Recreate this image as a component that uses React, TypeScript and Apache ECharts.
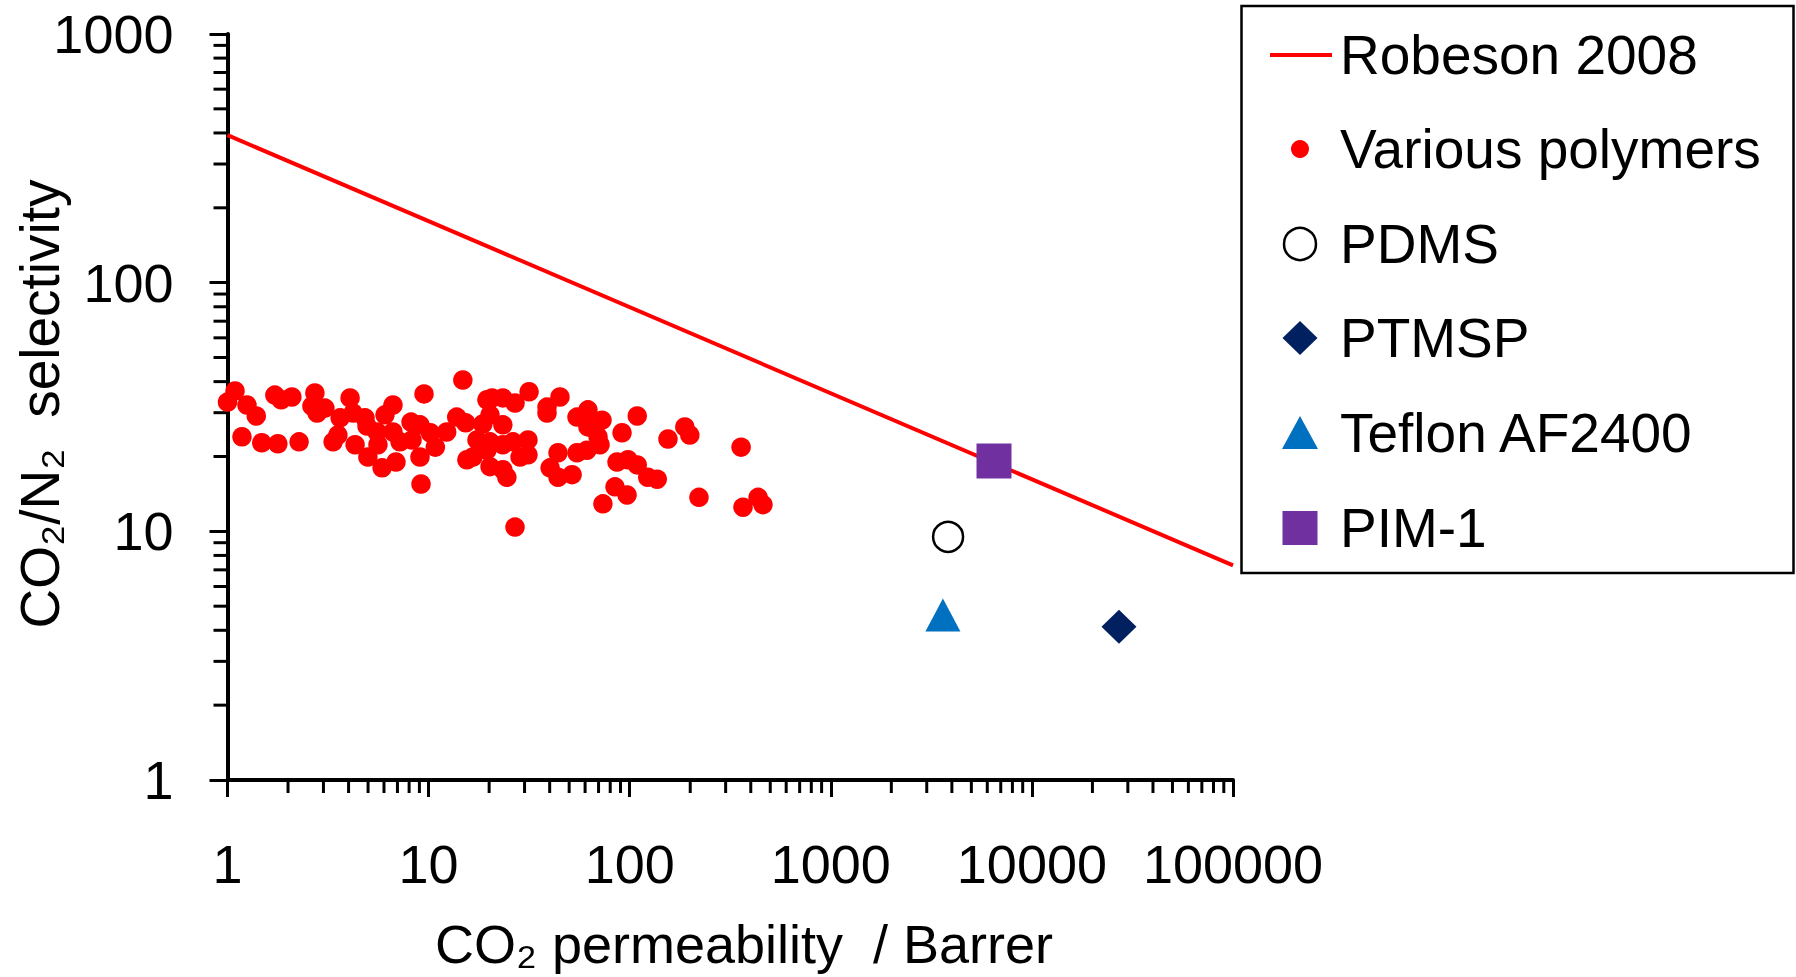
import React, { useEffect, useRef } from 'react';
import * as echarts from 'echarts';

const FONT = '"Liberation Sans", Arial, Helvetica, sans-serif';

// Tick labels
const xTickLabels = ['1', '10', '100', '1000', '10000', '100000'];
const yTickLabels = ['1', '10', '100', '1000'];
const xDecades = [1, 10, 100, 1000, 10000];
const yDecades = [1, 10, 100];
const minorMultipliers = [2, 3, 4, 5, 6, 7, 8, 9];

// Axis titles
const xTitle = 'CO₂ permeability  / Barrer';
const yTitle = 'CO₂/N₂  selectivity';

// Robeson 2008 upper bound (end points)
const robesonX = [1, 100000];
const robesonY = [392, 7.3];

// Various polymers
const polymerX = [1.0, 1.09, 1.25, 1.39, 1.18, 1.48, 1.78, 1.72, 1.85, 2.09, 2.27, 2.72, 2.63, 2.79, 3.05, 3.35, 3.54, 3.63, 4.07, 4.31, 4.83, 4.99, 5.54, 5.6, 5.87, 6.07, 6.65, 6.65, 6.88, 7.21, 8.18, 8.27, 9.06, 9.49, 9.06, 9.17, 10.2, 10.8, 12.3, 13.8, 14.8, 15.3, 15.5, 17.4, 19.5, 18.6, 19.5, 20.7, 23.4, 26.9, 31.6, 38.8, 45.0, 38.8, 20.2, 23.4, 20.2, 23.4, 26.3, 31.2, 28.5, 31.2, 20.2, 23.4, 24.5, 16.6, 44.0, 54.7, 62.0, 72.8, 69.6, 54.7, 61.3, 71.2, 40.2, 44.0, 51.7, 91.6, 86.5, 98.1, 84.5, 26.9, 62.0, 109, 109, 123, 137, 97.0, 73.6, 155, 188, 199, 221, 358, 366, 435, 460, 4.94, 4.21];
const polymerY = [33.1, 36.7, 32.2, 29.1, 24.0, 22.7, 22.5, 35.3, 33.8, 34.7, 22.9, 36.0, 31.9, 29.9, 31.3, 22.9, 24.4, 28.6, 34.4, 22.3, 28.6, 19.9, 25.1, 22.3, 18.0, 29.4, 32.2, 25.1, 19.0, 22.9, 27.5, 23.3, 26.8, 35.7, 19.9, 15.5, 24.9, 21.8, 25.1, 28.8, 40.6, 27.3, 19.4, 23.3, 33.8, 27.0, 21.2, 34.4, 34.4, 32.8, 36.4, 31.6, 34.7, 29.9, 29.4, 26.8, 22.9, 22.3, 22.9, 23.3, 19.9, 20.3, 18.2, 17.7, 16.5, 19.9, 20.7, 28.8, 30.8, 28.0, 24.0, 20.7, 21.2, 22.3, 18.0, 16.5, 16.9, 24.9, 19.0, 19.4, 15.1, 10.4, 26.3, 29.1, 18.5, 16.5, 16.2, 14.0, 12.9, 23.5, 26.3, 24.4, 13.7, 21.8, 12.5, 13.7, 12.8, 26.5, 29.9];

// Individual materials [permeability, selectivity]
const pdmsPoint = [3830, 9.5];
const ptmspPoint = [27100, 4.13];
const teflonPoint = [3610, 4.61];
const pim1Point = [6480, 19.2];

const legendNames = ['Robeson 2008', 'Various polymers', 'PDMS', 'PTMSP', 'Teflon AF2400', 'PIM-1'];

export default function App() {
  const ref = useRef<HTMLDivElement>(null);

  useEffect(() => {
    if (!ref.current) return;
    const chart = echarts.init(ref.current, undefined, { renderer: 'svg' });

    const xMinor: number[] = [];
    xDecades.forEach((d) => minorMultipliers.forEach((m) => xMinor.push(d * m)));
    const yMinor: number[] = [];
    yDecades.forEach((d) => minorMultipliers.forEach((m) => yMinor.push(d * m)));

    const labelFor = (labels: string[]) => (v: number) => {
      const found = labels.find((l) => Number(l) === Math.round(v));
      return found ?? '';
    };

    const legendRowY = [55, 149, 244, 338, 433, 528];
    const iconX = 1300;
    const textX = 1340;

    const option: any = {
      animation: false,
      backgroundColor: '#fff',
      grid: { left: 227.5, right: 563, top: 34, bottom: 197, containLabel: false },
      xAxis: {
        type: 'log',
        logBase: 10,
        min: 1,
        max: 100000,
        splitLine: { show: false },
        axisLine: { show: true, onZero: false, lineStyle: { color: '#000', width: 4 } },
        axisTick: { show: true, inside: false, length: 17, lineStyle: { color: '#000', width: 3 } },
        axisLabel: { margin: 57, fontSize: 54, fontFamily: FONT, color: '#000', formatter: labelFor(xTickLabels) },
      },
      yAxis: {
        type: 'log',
        logBase: 10,
        min: 1,
        max: 1000,
        splitLine: { show: false },
        axisLine: { show: true, onZero: false, lineStyle: { color: '#000', width: 4 } },
        axisTick: { show: true, inside: false, length: 18, lineStyle: { color: '#000', width: 3 } },
        axisLabel: { margin: 54, fontSize: 54, fontFamily: FONT, color: '#000', formatter: labelFor(yTickLabels) },
      },
      series: [
        {
          type: 'custom',
          name: 'xMinorTicks',
          silent: true,
          clip: false,
          z: 1,
          data: xMinor.map((v) => [v, 1]),
          encode: { x: 0, y: 1 },
          renderItem: (params: any, api: any) => {
            const p = api.coord([api.value(0), api.value(1)]);
            return {
              type: 'line',
              shape: { x1: p[0], y1: p[1], x2: p[0], y2: p[1] + 13 },
              style: { stroke: '#000', lineWidth: 3 },
            };
          },
        },
        {
          type: 'custom',
          name: 'yMinorTicks',
          silent: true,
          clip: false,
          z: 1,
          data: yMinor.map((v) => [1, v]),
          encode: { x: 0, y: 1 },
          renderItem: (params: any, api: any) => {
            const p = api.coord([api.value(0), api.value(1)]);
            return {
              type: 'line',
              shape: { x1: p[0], y1: p[1], x2: p[0] - 14, y2: p[1] },
              style: { stroke: '#000', lineWidth: 3 },
            };
          },
        },
        {
          type: 'line',
          name: legendNames[0],
          data: robesonX.map((x, i) => [x, robesonY[i]]),
          symbol: 'none',
          lineStyle: { color: '#FF0000', width: 4 },
          z: 2,
        },
        {
          type: 'scatter',
          name: legendNames[1],
          data: polymerX.map((x, i) => [x, polymerY[i]]),
          symbol: 'circle',
          symbolSize: 19.5,
          itemStyle: { color: '#FF0000', opacity: 1 },
          z: 3,
        },
        {
          type: 'scatter',
          name: legendNames[2],
          data: [pdmsPoint],
          symbol: 'circle',
          symbolSize: 30,
          itemStyle: { color: '#FFFFFF', borderColor: '#000', borderWidth: 2.5, opacity: 1 },
          z: 4,
        },
        {
          type: 'scatter',
          name: legendNames[3],
          data: [ptmspPoint],
          symbol: 'diamond',
          symbolSize: [35, 34],
          itemStyle: { color: '#002060', opacity: 1 },
          z: 4,
        },
        {
          type: 'scatter',
          name: legendNames[4],
          data: [teflonPoint],
          symbol: 'triangle',
          symbolSize: [35, 33],
          itemStyle: { color: '#0070C0', opacity: 1 },
          z: 4,
        },
        {
          type: 'scatter',
          name: legendNames[5],
          data: [pim1Point],
          symbol: 'rect',
          symbolSize: 35,
          itemStyle: { color: '#7030A0', opacity: 1 },
          z: 5,
        },
      ],
      graphic: [
        {
          type: 'text',
          x: 744,
          y: 944,
          z: 100,
          style: {
            text: xTitle,
            fontSize: 54,
            fontFamily: FONT,
            fill: '#000',
            align: 'center',
            verticalAlign: 'middle',
          },
        },
        {
          type: 'text',
          x: 40,
          y: 404,
          rotation: Math.PI / 2,
          z: 100,
          style: {
            text: yTitle,
            fontSize: 55,
            fontFamily: FONT,
            fill: '#000',
            align: 'center',
            verticalAlign: 'middle',
          },
        },
        // Legend box
        {
          type: 'rect',
          z: 100,
          shape: { x: 1241.5, y: 6, width: 552, height: 567 },
          style: { fill: '#fff', stroke: '#000', lineWidth: 2.5 },
        },
        {
          type: 'line',
          z: 101,
          shape: { x1: 1270, y1: legendRowY[0], x2: 1332, y2: legendRowY[0] },
          style: { stroke: '#FF0000', lineWidth: 4 },
        },
        {
          type: 'circle',
          z: 101,
          shape: { cx: iconX, cy: legendRowY[1], r: 9 },
          style: { fill: '#FF0000' },
        },
        {
          type: 'circle',
          z: 101,
          shape: { cx: iconX, cy: legendRowY[2], r: 16 },
          style: { fill: '#fff', stroke: '#000', lineWidth: 2.5 },
        },
        {
          type: 'polygon',
          z: 101,
          shape: {
            points: [
              [iconX, legendRowY[3] - 17],
              [iconX + 17.5, legendRowY[3]],
              [iconX, legendRowY[3] + 17],
              [iconX - 17.5, legendRowY[3]],
            ],
          },
          style: { fill: '#002060' },
        },
        {
          type: 'polygon',
          z: 101,
          shape: {
            points: [
              [iconX, legendRowY[4] - 17],
              [iconX + 18, legendRowY[4] + 16],
              [iconX - 18, legendRowY[4] + 16],
            ],
          },
          style: { fill: '#0070C0' },
        },
        {
          type: 'rect',
          z: 101,
          shape: { x: iconX - 17.5, y: legendRowY[5] - 17, width: 35, height: 34 },
          style: { fill: '#7030A0' },
        },
        ...legendNames.map((name, i) => ({
          type: 'text',
          z: 101,
          x: textX,
          y: legendRowY[i],
          style: {
            text: name,
            fontSize: 55,
            fontFamily: FONT,
            fill: '#000',
            align: 'left',
            verticalAlign: 'middle',
          },
        })),
      ],
    };

    chart.setOption(option);
    return () => chart.dispose();
  }, []);

  return (
    <div
      ref={ref}
      style={{ position: 'fixed', left: 0, top: 0, width: '1796px', height: '977px', background: '#fff' }}
    />
  );
}
